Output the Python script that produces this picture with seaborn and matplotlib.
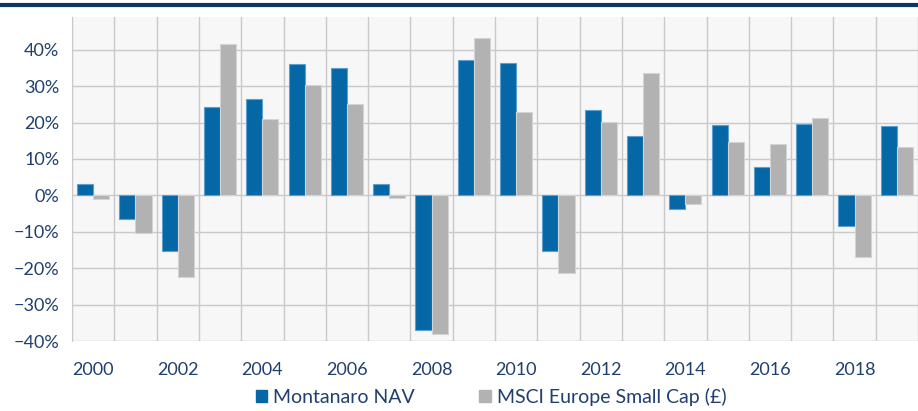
import matplotlib
matplotlib.use('Agg')
import matplotlib.pyplot as plt
from matplotlib.lines import Line2D
from matplotlib.ticker import FixedLocator, PercentFormatter
import seaborn as sns
import pandas as pd

years = list(range(2000, 2020))
montanaro_nav = [3.0, -6.6, -15.4, 24.4, 26.4, 36.0, 35.1, 3.2, -37.0, 37.3,
                 36.5, -15.4, 23.5, 16.2, -3.8, 19.4, 7.9, 19.7, -8.4, 19.0]
msci_small_cap = [-1.1, -10.2, -22.5, 41.5, 20.9, 30.3, 25.2, -0.8, -38.0, 43.2,
                  22.8, -21.2, 20.2, 33.7, -2.5, 14.8, 14.2, 21.3, -16.8, 13.3]
series_names = ['Montanaro NAV', 'MSCI Europe Small Cap (£)']

df = pd.concat([
    pd.DataFrame({'Year': [str(y) for y in years], 'Return': montanaro_nav, 'Series': series_names[0]}),
    pd.DataFrame({'Year': [str(y) for y in years], 'Return': msci_small_cap, 'Series': series_names[1]}),
])

navy = '#1f3f6e'
colors = ['#0567a5', '#b2b2b2']
edges = ['#5c9fd0', '#d4d4d4']

sns.set_style('white')
plt.rcParams['font.family'] = ['Lato', 'DejaVu Sans']

fig = plt.figure(figsize=(9.18, 4.11), dpi=100)
ax = fig.add_axes([72 / 918, 70 / 411, 1 - 72 / 918, 324 / 411])
ax.set_facecolor('#f7f7f7')

sns.barplot(data=df, x='Year', y='Return', hue='Series', palette=colors,
            saturation=1, width=0.76, ax=ax, legend=True, zorder=3)
for cont, ec in zip(ax.containers, edges):
    for bar in cont:
        bar.set_edgecolor(ec)
        bar.set_linewidth(0.8)

ax.set_ylim(-40, 49)
ax.set_xlim(-0.5, len(years) - 0.5)
ax.yaxis.set_major_locator(FixedLocator(range(-40, 50, 10)))
ax.yaxis.set_major_formatter(PercentFormatter(decimals=0))
ax.set_xticks(range(0, len(years), 2))
ax.set_xticklabels([str(y) for y in years[::2]])
ax.xaxis.set_minor_locator(FixedLocator([i - 0.5 for i in range(len(years) + 1)]))

ax.grid(axis='y', which='major', color='#c9c9c9', linewidth=1, zorder=0)
ax.grid(axis='x', which='minor', color='#c9c9c9', linewidth=1, zorder=0)
ax.set_axisbelow(True)
for s in ax.spines.values():
    s.set_visible(False)
ax.spines['left'].set_visible(True)
ax.spines['left'].set_color('#c9c9c9')

ax.tick_params(axis='y', length=5, color='#c9c9c9', labelsize=13, labelcolor=navy, pad=4)
ax.tick_params(axis='x', which='major', length=0, labelsize=13, labelcolor=navy, pad=15)
ax.tick_params(axis='x', which='minor', length=0)
ax.set_xlabel('')
ax.set_ylabel('')

handles = [plt.Rectangle((0, 0), 1, 1, color=c) for c in colors]
ax.legend(handles, series_names, loc='center', bbox_to_anchor=(0.5 - 4 / 846, -0.173),
          ncol=2, frameon=False, fontsize=14, labelcolor=navy, handlelength=0.6,
          handleheight=0.6, handletextpad=0.3, columnspacing=3.3)

fig.add_artist(Line2D([0, 1], [1 - 5 / 411, 1 - 5 / 411], color='#0b3768', linewidth=3))

fig.savefig('out.png', dpi=100)
